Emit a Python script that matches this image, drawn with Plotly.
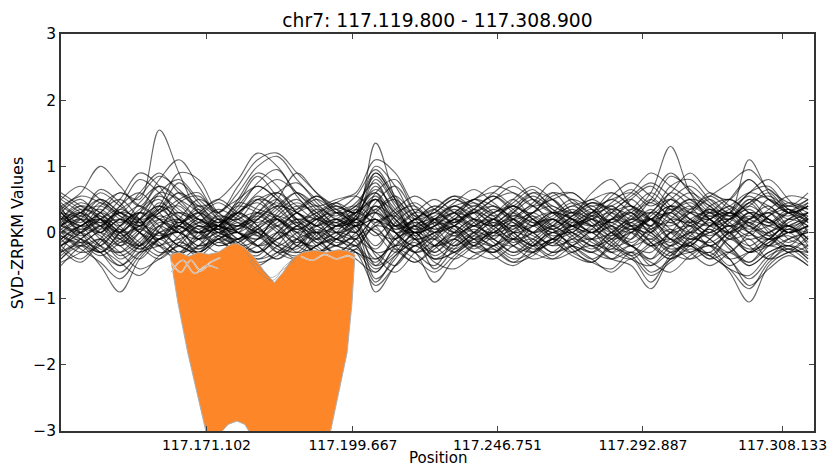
import plotly.graph_objects as go

# ---------------- data ----------------
positions = [0, 1, 2, 3, 4, 5, 6, 7, 8, 9, 10, 11, 12, 13, 14, 15, 16, 17, 18, 19,
             20, 21, 22, 23, 24, 25, 26, 27, 28, 29, 30, 31, 32, 33, 34, 35, 36, 37, 38]

tick_positions = [7.4, 14.85, 22.2, 29.6, 36.7]
tick_labels = ["117.171.102", "117.199.667", "117.246.751", "117.292.887", "117.308.133"]
y_ticks = [-3, -2, -1, 0, 1, 2, 3]

sample_01 = [0.3,0.1,0.4,0.6,0.5,1.55,0.9,0.3,0.1,0.4, 0.7,0.5,0.2,0.0,0.1,0.3,0.6,0.2,-0.1,0.0, 0.2,0.1,0.3,0.4,0.2,0.0,0.1,0.2,0.3,0.1, 0.0,0.4,0.3,0.1,0.0,0.2,0.3,0.1,0.2]
sample_02 = [0.1,0.0,-0.2,0.1,0.3,0.2,0.0,-0.1,0.1,0.3, 0.5,0.6,0.4,0.2,0.4,0.3,1.35,0.5,-0.1,-0.2, 0.1,0.3,0.2,0.0,0.1,0.3,0.2,0.0,0.2,0.1, -0.1,0.2,0.4,0.2,0.0,0.3,0.2,0.0,0.1]
sample_03 = [-0.1,0.1,0.2,0.0,-0.2,0.1,0.3,0.2,0.0,-0.1, 0.2,0.4,0.3,0.1,0.0,0.2,0.5,0.3,0.0,0.1, 0.3,0.2,0.1,0.3,0.5,0.3,0.1,0.0,0.2,0.3, 0.6,1.3,0.6,0.2,0.1,0.3,0.2,0.0,0.1]
sample_04 = [0.2,0.3,0.1,-0.1,0.2,0.4,0.2,0.0,0.2,0.1, 0.3,0.2,0.0,-0.1,0.1,0.2,0.4,0.1,-0.1,0.0, 0.2,0.3,0.4,0.2,0.0,0.1,0.3,0.2,0.1,0.0, 0.2,0.4,0.3,0.5,0.3,1.1,0.6,0.3,0.4]
sample_05 = [-0.3,-0.2,-0.5,-0.9,-0.4,-0.1,0.0,-0.2,-0.1,-0.3, -0.2,0.0,-0.1,-0.3,-0.2,-0.1,-0.9,-0.5,-0.2,-0.4, -0.3,-0.1,-0.2,-0.4,-0.3,-0.1,-0.2,-0.3,-0.4,-0.2, -0.5,-0.3,-0.2,-0.4,-0.3,-0.5,-0.3,-0.2,-0.4]
sample_06 = [-0.2,-0.1,-0.3,-0.5,-0.3,-0.2,-0.1,0.0,-0.2,-0.1, 0.0,-0.3,-0.4,-0.2,-0.1,-0.3,-0.4,-0.2,-0.3,-0.75, -0.4,-0.2,-0.3,-0.1,-0.2,-0.4,-0.3,-0.2,-0.4,-0.5, -0.85,-0.4,-0.3,-0.2,-0.4,-0.3,-0.2,-0.3,-0.5]
sample_07 = [0.0,-0.2,-0.1,-0.4,-0.2,0.0,-0.2,-0.3,-0.1,0.0, -0.2,-0.4,-0.2,0.0,-0.1,-0.2,-0.5,-0.1,0.0,-0.3, -0.1,-0.3,-0.4,-0.2,-0.1,-0.3,-0.2,0.0,-0.3,-0.2, -0.4,-0.2,-0.4,-0.3,-0.6,-1.05,-0.5,-0.3,-0.3]
sample_08 = [0.4,0.6,1.0,0.7,0.4,0.8,1.1,0.7,0.3,0.6, 1.0,1.15,0.8,0.5,0.3,0.4,0.9,0.5,0.2,0.3, 0.5,0.4,0.6,0.8,0.5,0.3,0.4,0.5,0.6,0.4, 0.3,0.7,0.8,0.5,0.3,0.6,0.7,0.4,0.5]
sample_09 = [0.5,0.7,0.5,0.3,0.6,0.9,0.6,0.4,0.5,0.8, 1.2,1.0,0.6,0.4,0.5,0.6,1.1,0.9,0.4,0.2, 0.4,0.5,0.7,0.6,0.4,0.5,0.6,0.4,0.5,0.6, 0.4,0.6,0.9,0.6,0.5,0.8,0.5,0.4,0.6]
sample_10 = [0.1,0.3,0.5,0.3,0.2,0.6,0.8,0.5,0.3,0.7, 1.1,1.2,0.9,0.6,0.3,0.2,0.3,0.1,0.0,0.2, 0.3,0.5,0.6,0.4,0.3,0.6,0.5,0.3,0.4,0.6, 0.9,0.7,0.5,0.3,0.4,0.6,0.5,0.3,0.4]
sample_11 = [0.2,0.1,-0.2,-0.3,0.0,0.3,0.4,0.1,0.0,0.2, 0.3,0.1,-0.2,-0.1,0.1,0.0,0.4,0.2,-0.1,-0.3, 0.0,0.2,0.1,-0.1,0.2,0.3,0.1,-0.1,0.0,0.2, 0.1,-0.2,0.0,0.3,0.1,-0.1,0.0,0.2,0.1]
sample_12 = [0.4,0.0,0.3,0.5,0.2,-0.1,0.1,0.3,0.1,-0.2, -0.1,0.3,0.5,0.2,-0.1,0.1,0.5,0.0,-0.2,0.1, 0.3,0.0,-0.1,0.2,0.4,0.1,0.0,0.3,0.4,0.1, -0.2,0.0,0.3,0.2,-0.1,0.2,0.4,0.1,0.0]
sample_13 = [-0.3,0.1,0.2,-0.1,-0.3,-0.1,0.2,0.0,0.1,0.3, 0.1,-0.2,0.0,0.2,0.3,0.1,-0.3,-0.2,0.1,0.2, 0.1,-0.2,0.0,0.1,-0.2,-0.1,0.1,0.2,-0.1,-0.3, 0.0,0.2,0.1,-0.2,0.0,0.3,0.0,-0.2,0.1]
sample_14 = [0.1,0.3,0.0,0.4,0.6,0.3,0.0,0.2,0.1,0.0, 0.4,0.6,0.3,0.1,0.2,0.1,0.2,-0.1,0.2,0.3, 0.5,0.3,0.0,0.1,0.3,0.1,0.2,0.0,0.2,0.3, 0.0,0.3,0.5,0.2,0.0,0.1,0.3,0.0,0.2]
sample_15 = [-0.4,-0.1,0.1,0.2,0.0,-0.2,-0.3,0.0,0.1,-0.1, -0.3,-0.1,0.2,0.1,-0.1,-0.2,0.3,0.5,0.1,-0.2, -0.1,0.1,0.2,-0.1,-0.3,-0.1,0.0,-0.2,-0.1,0.1, 0.2,-0.1,-0.3,-0.1,0.1,0.0,-0.2,-0.1,0.0]
sample_16 = [0.0,0.2,0.5,0.3,0.1,0.4,0.2,-0.1,0.1,0.3, 0.5,0.2,0.0,0.1,0.2,0.0,0.6,0.8,0.3,0.0, 0.2,0.4,0.3,0.5,0.2,0.0,0.2,0.4,0.1,-0.1, 0.3,0.5,0.2,0.0,0.2,0.5,0.2,0.1,0.3]
sample_17 = [0.3,0.0,-0.3,0.0,0.3,0.1,-0.2,-0.1,0.2,0.0, -0.2,0.0,0.3,0.0,-0.2,0.1,-0.5,-0.3,0.0,-0.1, 0.1,-0.1,-0.2,0.1,0.0,-0.2,0.1,0.3,0.0,-0.2, -0.4,0.0,0.1,-0.1,-0.3,0.0,0.2,-0.1,-0.2]
sample_18 = [0.1,0.2,0.0,-0.2,0.2,0.6,0.5,0.3,0.0,0.1, 0.3,0.5,0.2,-0.1,0.0,0.3,0.1,-0.2,0.0,0.2, 0.0,-0.2,0.1,0.3,0.1,0.2,0.0,-0.1,0.2,0.4, 0.2,-0.1,0.0,0.2,0.3,0.0,-0.1,0.2,0.3]
sample_19 = [-0.2,0.0,0.3,0.1,-0.2,0.0,0.1,0.4,0.2,-0.1, 0.0,0.2,0.4,0.3,0.0,-0.1,0.1,0.3,0.4,0.1, -0.2,0.0,0.2,0.0,-0.2,0.1,0.3,0.1,-0.1,0.0, 0.2,0.0,-0.2,0.1,0.3,0.1,-0.1,0.0,0.2]
sample_20 = [0.5,0.3,0.1,0.3,0.0,-0.2,0.1,0.3,0.1,0.2, 0.0,-0.3,-0.2,0.1,0.3,0.2,0.0,-0.3,-0.1,0.2, 0.4,0.2,-0.1,-0.2,0.1,0.3,0.2,0.1,-0.2,-0.1, 0.3,0.2,-0.1,0.0,0.3,0.1,0.0,0.2,0.4]
sample_21 = [-0.1,-0.3,-0.2,0.1,0.3,0.0,-0.3,-0.2,0.0,-0.2, -0.4,-0.2,0.1,-0.1,-0.3,-0.1,0.2,-0.1,-0.3,-0.2, 0.0,-0.2,-0.3,0.0,0.2,-0.1,-0.3,-0.1,0.1,-0.2, -0.3,0.0,-0.2,-0.3,0.0,-0.3,-0.1,0.1,-0.2]
sample_22 = [0.2,0.4,0.2,0.0,0.3,0.5,0.1,0.0,0.3,0.5, 0.7,0.5,0.2,0.3,0.4,0.3,0.7,0.3,0.1,0.2, 0.4,0.3,0.5,0.6,0.4,0.2,0.1,0.3,0.5,0.3, 0.1,0.4,0.6,0.4,0.2,0.4,0.6,0.3,0.2]
sample_23 = [-0.2,-0.4,-0.1,0.2,0.0,-0.3,-0.2,0.1,-0.1,-0.3, -0.1,0.2,0.0,-0.3,-0.2,-0.4,-0.6,-0.2,0.1,-0.2, -0.4,-0.2,0.0,-0.2,-0.4,-0.3,-0.1,-0.2,-0.4,-0.3, -0.6,-0.4,-0.1,-0.2,-0.5,-0.3,-0.1,-0.3,-0.2]
sample_24 = [0.0,0.1,0.3,0.6,0.4,0.2,0.0,0.2,0.0,-0.1, 0.1,0.4,0.6,0.4,0.1,0.2,0.9,0.5,0.0,0.1, 0.2,0.5,0.3,0.1,0.3,0.5,0.2,0.0,0.1,0.3, 0.1,0.6,0.4,0.1,0.2,0.4,0.2,0.0,0.1]
sample_25 = [0.3,0.2,-0.1,-0.3,-0.1,0.2,0.3,0.1,0.1,0.0, -0.2,-0.1,0.1,0.2,0.0,0.1,0.3,0.0,-0.2,0.0, 0.1,0.3,0.1,-0.1,0.0,0.2,0.1,0.0,0.3,0.5, 0.2,0.0,0.1,0.2,-0.1,0.0,0.1,0.3,0.0]
sample_26 = [-0.5,-0.2,0.0,-0.2,-0.4,-0.1,0.0,-0.2,-0.1,0.1, 0.2,0.0,-0.3,-0.2,0.0,-0.1,-0.3,-0.5,-0.2,-0.4, -0.2,0.0,-0.1,-0.3,-0.2,0.0,-0.2,-0.4,-0.2,0.0, -0.2,-0.4,-0.2,0.0,-0.2,-0.5,-0.3,-0.2,-0.4]
sample_27 = [0.1,0.0,0.2,0.4,0.8,0.6,0.3,0.2,0.1,0.3, 0.6,0.8,0.6,0.3,0.1,0.3,1.0,0.7,0.2,0.0, 0.1,0.3,0.5,0.7,0.5,0.3,0.1,0.2,0.4,0.2, 0.5,0.9,0.6,0.3,0.2,0.5,0.4,0.2,0.3]
sample_28 = [0.0,-0.1,-0.3,-0.6,-0.3,0.0,0.1,-0.1,0.0,0.1, 0.0,-0.2,-0.4,-0.2,-0.1,0.0,-0.7,-0.4,0.0,-0.4, -0.3,-0.1,0.0,-0.2,-0.3,-0.1,0.1,0.0,-0.2,-0.4, -0.5,-0.2,0.0,-0.1,-0.4,-0.7,-0.4,-0.1,0.0]
sample_29 = [0.2,0.3,0.6,0.4,0.2,0.3,0.5,0.6,0.2,0.1, 0.2,0.4,0.3,0.1,0.3,0.4,0.2,0.1,0.3,0.2, 0.0,0.1,0.3,0.4,0.6,0.4,0.3,0.5,0.3,0.1, 0.2,0.3,0.1,0.4,0.5,0.3,0.1,0.3,0.5]
sample_30 = [-0.3,-0.1,0.1,-0.1,-0.2,0.1,0.2,0.0,-0.2,-0.1, 0.1,0.2,-0.1,-0.2,0.1,0.2,0.0,-0.1,0.1,-0.1, -0.3,-0.1,0.1,0.2,0.0,-0.2,-0.1,0.1,0.2,0.0, -0.2,-0.1,0.2,0.3,0.0,-0.2,0.0,0.1,-0.1]
sample_31 = [0.4,0.2,0.0,0.2,0.1,0.3,0.6,0.4,0.2,0.4, 0.3,0.1,0.3,0.4,0.2,0.3,0.5,0.2,0.0,0.1, 0.3,0.5,0.4,0.2,0.3,0.4,0.2,0.1,0.3,0.4, 0.2,0.3,0.5,0.4,0.1,0.2,0.3,0.4,0.3]
sample_32 = [-0.1,0.1,0.0,0.3,0.2,-0.2,-0.4,-0.2,0.1,0.0, -0.2,-0.4,-0.1,0.2,0.0,-0.2,0.1,0.0,-0.3,-0.5, -0.1,0.1,-0.1,-0.3,-0.1,0.1,-0.1,-0.3,-0.1,0.1, 0.0,-0.3,-0.4,-0.1,0.1,-0.2,-0.4,-0.3,-0.1]
sample_33 = [0.1,0.4,0.3,0.0,0.1,0.4,0.9,0.8,0.3,0.2, 0.5,0.4,0.1,0.0,0.2,0.4,0.6,0.1,0.2,0.4, 0.3,0.1,0.0,0.3,0.6,0.5,0.2,0.3,0.6,0.4, 0.2,0.1,0.3,0.6,0.4,0.2,0.5,0.3,0.1]
sample_34 = [-0.2,0.0,-0.2,-0.5,-0.2,0.1,-0.1,-0.3,-0.1,0.0, -0.1,0.1,-0.2,-0.3,-0.1,0.1,-0.2,0.1,0.0,-0.2, -0.1,-0.3,-0.2,0.0,-0.1,-0.3,-0.2,-0.3,0.0,-0.2, -0.1,-0.3,-0.2,-0.4,-0.1,-0.3,-0.2,0.0,-0.3]
sample_35 = [0.3,0.1,0.2,0.5,0.9,0.7,0.2,0.0,0.1,0.5, 0.9,0.7,0.3,0.2,0.1,0.2,0.8,0.4,0.0,0.2, 0.4,0.2,0.1,0.2,0.4,0.6,0.3,0.1,0.2,0.5, 0.7,0.4,0.2,0.1,0.3,0.6,0.8,0.5,0.2]
sample_36 = [0.0,0.2,0.1,-0.2,0.0,0.2,0.1,0.0,0.1,-0.2, -0.3,0.0,0.2,0.0,-0.2,0.0,0.4,0.0,-0.3,-0.1, 0.2,0.0,-0.2,0.0,0.1,-0.1,0.0,0.2,0.0,-0.2, 0.1,0.3,0.0,-0.2,0.0,0.1,-0.1,0.0,0.1]
sample_37 = [0.2,-0.1,-0.3,0.0,0.2,0.4,0.0,-0.3,0.1,0.3, 0.1,-0.2,-0.3,0.0,0.2,0.0,-0.4,-0.1,0.2,0.0, -0.2,0.0,0.2,0.0,-0.2,0.0,0.1,-0.1,-0.3,0.0, 0.2,-0.1,-0.2,0.1,0.2,0.0,-0.2,0.1,0.2]
sample_38 = [0.6,0.4,0.2,0.0,0.3,0.7,0.5,0.2,0.1,0.0, 0.2,0.5,0.9,0.6,0.4,0.3,0.5,0.1,0.3,0.5, 0.3,0.1,0.2,0.5,0.7,0.5,0.3,0.6,0.8,0.4, 0.2,0.5,0.3,0.2,0.5,0.8,0.5,0.3,0.4]
sample_39 = [-0.4,-0.2,-0.3,-0.1,0.1,0.0,-0.2,-0.3,-0.1,-0.2, -0.4,-0.3,-0.1,0.0,-0.2,-0.3,-0.8,-0.5,-0.2,-0.1, -0.3,-0.4,-0.2,-0.1,-0.3,-0.4,-0.2,-0.1,-0.3,-0.4, -0.2,-0.1,-0.3,-0.5,-0.3,-0.1,-0.4,-0.2,-0.3]
sample_40 = [0.1,0.3,0.4,0.2,0.0,-0.1,0.2,0.5,0.3,0.0, -0.1,0.1,0.3,0.5,0.3,0.1,0.2,0.0,0.1,0.3, 0.1,-0.1,0.0,0.2,0.0,0.2,0.4,0.2,0.0,0.2, 0.5,0.2,0.0,0.2,0.4,0.2,0.1,0.0,0.1]
sample_41 = [0.15,0.35,0.25,-0.05,-0.25,0.05,0.45,0.55,0.25,0.05, 0.25,0.45,0.15,-0.15,-0.05,0.25,0.65,0.35,0.05,0.15, 0.35,0.15,-0.05,0.05,0.25,0.05,-0.15,0.05,0.35,0.25, 0.05,0.35,0.15,-0.05,0.15,0.45,0.15,0.05,0.25]
sample_42 = [-0.15,0.05,-0.05,-0.35,-0.15,0.15,0.05,-0.25,-0.05,0.15, -0.05,-0.25,-0.35,-0.05,0.15,-0.15,-0.45,-0.05,0.15,-0.05, -0.25,-0.05,0.15,-0.05,-0.25,-0.15,0.05,-0.15,-0.25,0.05, -0.15,-0.35,-0.05,0.15,-0.05,-0.25,-0.15,0.05,-0.15]
sample_43 = [0.35,0.15,0.45,0.25,0.05,0.25,0.15,0.35,0.15,0.45, 0.35,0.25,0.05,0.25,0.45,0.15,0.35,0.55,0.25,0.05, 0.15,0.35,0.55,0.35,0.15,0.25,0.45,0.25,0.05,0.25, 0.45,0.25,0.15,0.35,0.25,0.05,0.25,0.45,0.35]
sample_44 = [-0.25,-0.45,-0.15,0.05,-0.15,-0.35,-0.05,0.15,0.05,-0.25, -0.35,-0.05,0.15,-0.05,-0.35,-0.25,0.15,0.25,-0.05,-0.35, -0.15,0.05,-0.15,-0.35,-0.15,0.05,-0.25,-0.45,-0.15,0.05, -0.05,-0.25,-0.15,0.05,-0.25,-0.45,-0.15,-0.05,-0.25]
sample_45 = [0.05,0.25,0.65,0.45,0.15,0.35,0.75,0.45,0.15,0.35, 0.75,0.95,0.55,0.25,0.15,0.35,0.85,0.45,0.15,0.25, 0.45,0.65,0.45,0.25,0.45,0.75,0.45,0.25,0.45,0.65, 0.45,0.85,0.65,0.35,0.25,0.45,0.65,0.35,0.25]
sample_46 = [-0.05,-0.15,0.05,0.35,0.15,-0.05,0.15,0.05,-0.15,0.05, 0.25,0.05,-0.15,0.15,0.35,0.05,-0.25,0.15,0.35,0.15, -0.05,0.15,0.35,0.15,-0.05,-0.15,0.15,0.35,0.05,-0.15, 0.05,0.15,-0.05,-0.15,0.05,0.25,0.05,-0.15,0.05]
sample_47 = [0.25,0.05,0.15,-0.15,0.05,0.45,0.25,0.05,0.25,0.15, -0.05,0.25,0.45,0.25,0.05,0.25,0.55,0.15,-0.05,0.15, 0.05,-0.15,0.05,0.25,0.15,-0.05,0.05,0.25,0.15,0.35, 0.05,-0.15,0.15,0.35,0.15,-0.05,0.25,0.35,0.15]
sample_48 = [-0.35,-0.15,-0.25,-0.45,-0.65,-0.35,-0.15,-0.25,-0.05,-0.25, -0.45,-0.35,-0.15,-0.25,-0.45,-0.25,-0.55,-0.35,-0.15,-0.45, -0.55,-0.35,-0.25,-0.45,-0.35,-0.15,-0.35,-0.45,-0.25,-0.35, -0.65,-0.45,-0.25,-0.35,-0.55,-0.65,-0.35,-0.25,-0.45]
sample_49 = [0.45,0.25,0.35,0.15,0.35,0.55,0.35,0.15,0.05,0.25, 0.55,0.35,0.15,0.35,0.25,0.45,0.75,0.25,0.05,0.35, 0.55,0.35,0.15,0.35,0.55,0.35,0.15,0.25,0.55,0.75, 0.55,0.35,0.45,0.25,0.35,0.55,0.35,0.25,0.45]
sample_50 = [0.05,-0.15,-0.35,-0.15,0.05,-0.15,-0.35,-0.05,0.05,-0.15, 0.05,-0.15,-0.25,0.05,-0.15,-0.05,0.05,-0.25,-0.45,-0.25, -0.05,-0.25,-0.05,0.15,-0.15,-0.35,-0.05,0.05,-0.15,-0.35, -0.15,0.05,-0.15,-0.35,-0.05,0.15,-0.05,-0.25,-0.05]
sample_51 = [0.2,0.45,0.3,0.1,0.45,0.7,0.45,0.2,0.05,0.3, 0.45,0.2,0.05,0.2,0.45,0.55,0.3,0.05,0.2,0.35, 0.15,0.35,0.55,0.3,0.1,0.3,0.5,0.35,0.15,0.35, 0.6,0.35,0.15,0.3,0.5,0.3,0.15,0.35,0.2]
sample_52 = [-0.1,0.1,0.25,0.05,-0.2,-0.4,-0.15,0.1,-0.05,-0.2, 0.05,0.2,-0.05,-0.3,-0.1,0.15,-0.35,-0.6,-0.3,-0.05, 0.1,-0.1,-0.3,-0.1,0.1,0.2,-0.05,-0.25,-0.05,0.15, -0.15,-0.4,-0.15,0.05,-0.2,-0.45,-0.2,0.05,-0.1]
sample_53 = [0.3,0.5,0.2,-0.05,0.1,0.35,0.6,0.3,0.1,0.05, 0.3,0.6,0.75,0.45,0.2,0.1,0.45,0.7,0.3,0.05, 0.25,0.45,0.25,0.05,0.3,0.55,0.6,0.35,0.15,0.05, 0.25,0.5,0.7,0.45,0.25,0.45,0.55,0.35,0.15]
sample_54 = [-0.45,-0.3,-0.1,-0.3,-0.55,-0.4,-0.2,-0.35,-0.15,-0.3, -0.5,-0.3,-0.1,-0.35,-0.5,-0.3,-0.6,-0.25,-0.4,-0.6, -0.35,-0.15,-0.35,-0.5,-0.3,-0.1,-0.3,-0.45,-0.55,-0.3, -0.45,-0.6,-0.35,-0.2,-0.4,-0.8,-0.55,-0.35,-0.5]
sample_55 = [0.15,-0.05,0.1,0.3,0.1,-0.1,0.05,0.25,0.45,0.25, 0.05,-0.1,0.1,0.3,0.45,0.25,-0.05,0.25,0.45,0.2, 0.0,0.2,0.4,0.2,0.0,0.15,0.35,0.15,-0.05,0.15, 0.3,0.05,-0.1,0.1,0.3,0.15,-0.05,0.15,0.3]
sample_56 = [0.55,0.35,0.15,0.35,0.55,0.85,0.65,0.35,0.15,0.45, 0.85,0.55,0.35,0.55,0.35,0.55,0.95,0.55,0.25,0.35, 0.55,0.45,0.25,0.45,0.65,0.35,0.25,0.45,0.35,0.55, 0.75,0.55,0.35,0.55,0.75,0.95,0.65,0.45,0.35]
sample_57 = [-0.2,0.0,0.2,0.0,-0.25,-0.1,0.1,-0.1,-0.3,-0.15, 0.05,0.25,0.1,-0.15,-0.3,-0.1,0.2,-0.2,-0.45,-0.2, 0.0,0.2,0.05,-0.15,0.0,0.2,0.0,-0.2,0.0,0.2, 0.0,-0.2,0.05,0.25,0.0,-0.3,-0.1,0.1,-0.1]
sample_58 = [0.1,0.25,0.05,0.2,0.4,0.2,0.0,0.15,0.35,0.2, 0.0,0.15,0.35,0.55,0.35,0.15,0.35,0.05,0.2,0.4, 0.2,0.0,0.2,0.4,0.2,0.05,0.25,0.45,0.25,0.05, 0.2,0.4,0.2,0.0,0.2,0.35,0.15,0.3,0.45]
sample_59 = [-0.05,-0.25,-0.45,-0.7,-0.35,-0.1,-0.3,-0.1,0.05,-0.15, -0.3,-0.1,0.05,-0.2,-0.4,-0.2,-0.75,-0.35,-0.1,-0.55, -0.25,-0.05,-0.25,-0.45,-0.2,0.0,-0.2,-0.4,-0.6,-0.4, -0.75,-0.35,-0.15,-0.35,-0.55,-0.85,-0.45,-0.25,-0.35]
sample_60 = [0.35,0.55,0.45,0.25,0.15,0.35,0.15,0.3,0.5,0.3, 0.15,0.35,0.6,0.35,0.15,0.35,0.15,0.35,0.55,0.35, 0.15,0.35,0.2,0.4,0.25,0.05,0.25,0.45,0.35,0.15, 0.35,0.15,0.35,0.55,0.35,0.15,0.35,0.55,0.5]

samples = [sample_01, sample_02, sample_03, sample_04, sample_05, sample_06, sample_07, sample_08,
           sample_09, sample_10, sample_11, sample_12, sample_13, sample_14, sample_15, sample_16,
           sample_17, sample_18, sample_19, sample_20, sample_21, sample_22, sample_23, sample_24,
           sample_25, sample_26, sample_27, sample_28, sample_29, sample_30, sample_31, sample_32,
           sample_33, sample_34, sample_35, sample_36, sample_37, sample_38, sample_39, sample_40,
           sample_41, sample_42, sample_43, sample_44, sample_45, sample_46, sample_47, sample_48,
           sample_49, sample_50, sample_51, sample_52, sample_53, sample_54, sample_55, sample_56,
           sample_57, sample_58, sample_59, sample_60]

# deletion (orange) region outline: position / value pairs
deletion_x = [5.55, 6.0, 6.5, 7.0, 7.5, 8.0, 8.4, 8.7, 9.0, 9.3, 9.8, 10.3, 10.85, 11.3, 11.8, 12.3, 12.9, 13.5, 14.1, 14.6, 14.95,
              14.88, 14.8, 14.55, 14.1, 13.7, 13.5,
              9.7, 9.55, 9.35, 8.95, 8.5, 8.2, 7.9, 7.5,
              7.35, 6.95, 6.45, 5.95, 5.75, 5.55]
deletion_y = [-0.34, -0.3, -0.36, -0.3, -0.33, -0.3, -0.22, -0.17, -0.17, -0.22, -0.36, -0.57, -0.76, -0.6, -0.38, -0.3, -0.27, -0.3, -0.26, -0.28, -0.34,
              -0.64, -1.07, -1.82, -2.48, -3.02, -3.3,
              -3.3, -3.0, -2.9, -2.85, -2.9, -3.0, -3.3, -3.3,
              -2.98, -2.48, -1.82, -1.07, -0.72, -0.34]

# broken (white / grey) strands in the top part of the deletion region
gap_1_x = [5.6, 6.1, 6.6, 7.1, 7.6, 8.1]
gap_1_y = [-0.45, -0.6, -0.42, -0.58, -0.45, -0.38]
gap_2_x = [5.6, 6.2, 6.8, 7.4, 8.0]
gap_2_y = [-0.6, -0.42, -0.62, -0.5, -0.55]
gap_3_x = [12.2, 12.8, 13.4, 14.0, 14.6, 14.95]
gap_3_y = [-0.36, -0.42, -0.33, -0.4, -0.35, -0.4]
white_gaps = [(gap_1_x, gap_1_y), (gap_2_x, gap_2_y), (gap_3_x, gap_3_y)]
grey_1_x = [9.6, 10.2, 10.8, 11.4, 12.0]
grey_1_y = [-0.42, -0.64, -0.72, -0.5, -0.38]
grey_2_x = [9.4, 10.0, 10.7, 11.2, 11.9]
grey_2_y = [-0.3, -0.5, -0.68, -0.58, -0.42]
grey_strands = [(gap_1_x, gap_1_y), (gap_2_x, gap_2_y), (gap_3_x, gap_3_y),
                (grey_1_x, grey_1_y), (grey_2_x, grey_2_y)]

# ---------------- figure ----------------
ORANGE = "#fd8728"
FONT = "DejaVu Sans"

fig = go.Figure()

for s in samples:
    fig.add_trace(go.Scatter(
        x=positions, y=s, mode="lines",
        line=dict(color="rgba(0,0,0,0.6)", width=1.1, shape="spline", smoothing=1.0),
        hoverinfo="skip", showlegend=False))

fig.add_trace(go.Scatter(
    x=deletion_x, y=deletion_y, mode="lines", fill="toself", fillcolor=ORANGE,
    line=dict(color="rgb(175,175,175)", width=1), hoverinfo="skip", showlegend=False))

for gx, gy in white_gaps:
    fig.add_trace(go.Scatter(
        x=gx, y=gy, mode="lines",
        line=dict(color="rgba(255,255,255,0.85)", width=1.6, shape="spline"),
        hoverinfo="skip", showlegend=False))
for gx, gy in grey_strands:
    fig.add_trace(go.Scatter(
        x=gx, y=gy, mode="lines",
        line=dict(color="rgba(140,140,140,0.9)", width=0.7, shape="spline"),
        hoverinfo="skip", showlegend=False))

fig.update_layout(
    width=837, height=468,
    margin=dict(l=61, r=10, t=34, b=37),
    paper_bgcolor="white", plot_bgcolor="white",
    font=dict(family=FONT, color="black"),
    title=dict(text="chr7: 117.119.800 - 117.308.900", x=0.5, xref="paper",
               y=1 - 20 / 468, yref="container", yanchor="middle", xanchor="center",
               font=dict(size=18.7, family=FONT, color="black")),
    showlegend=False,
    annotations=[
        dict(text="Position", x=0.5, y=-0.067, xref="paper", yref="paper",
             xanchor="center", yanchor="middle", showarrow=False,
             font=dict(size=15, family=FONT, color="black")),
        dict(text="SVD-ZRPKM Values", x=-0.0574, y=0.5, xref="paper", yref="paper",
             xanchor="center", yanchor="middle", showarrow=False, textangle=-90,
             font=dict(size=16, family=FONT, color="black")),
    ],
)

fig.update_xaxes(
    range=[0, 38.3], tickvals=tick_positions, ticktext=tick_labels,
    ticks="inside", ticklen=5, tickwidth=1, tickcolor="#444",
    showline=True, linecolor="#333", linewidth=1.5, mirror="ticks",
    ticklabeloverflow="allow",
    showgrid=False, zeroline=False, tickfont=dict(size=14, family=FONT, color="black"))
fig.update_yaxes(
    range=[-3, 3], tickvals=y_ticks,
    ticks="inside", ticklen=5, tickwidth=1, tickcolor="#444",
    showline=True, linecolor="#333", linewidth=1.5, mirror="ticks",
    showgrid=False, zeroline=False, tickfont=dict(size=15.5, family=FONT, color="black"))

fig.write_html("out.html", config={"displayModeBar": False},
               post_script="document.body.style.margin='0';")
